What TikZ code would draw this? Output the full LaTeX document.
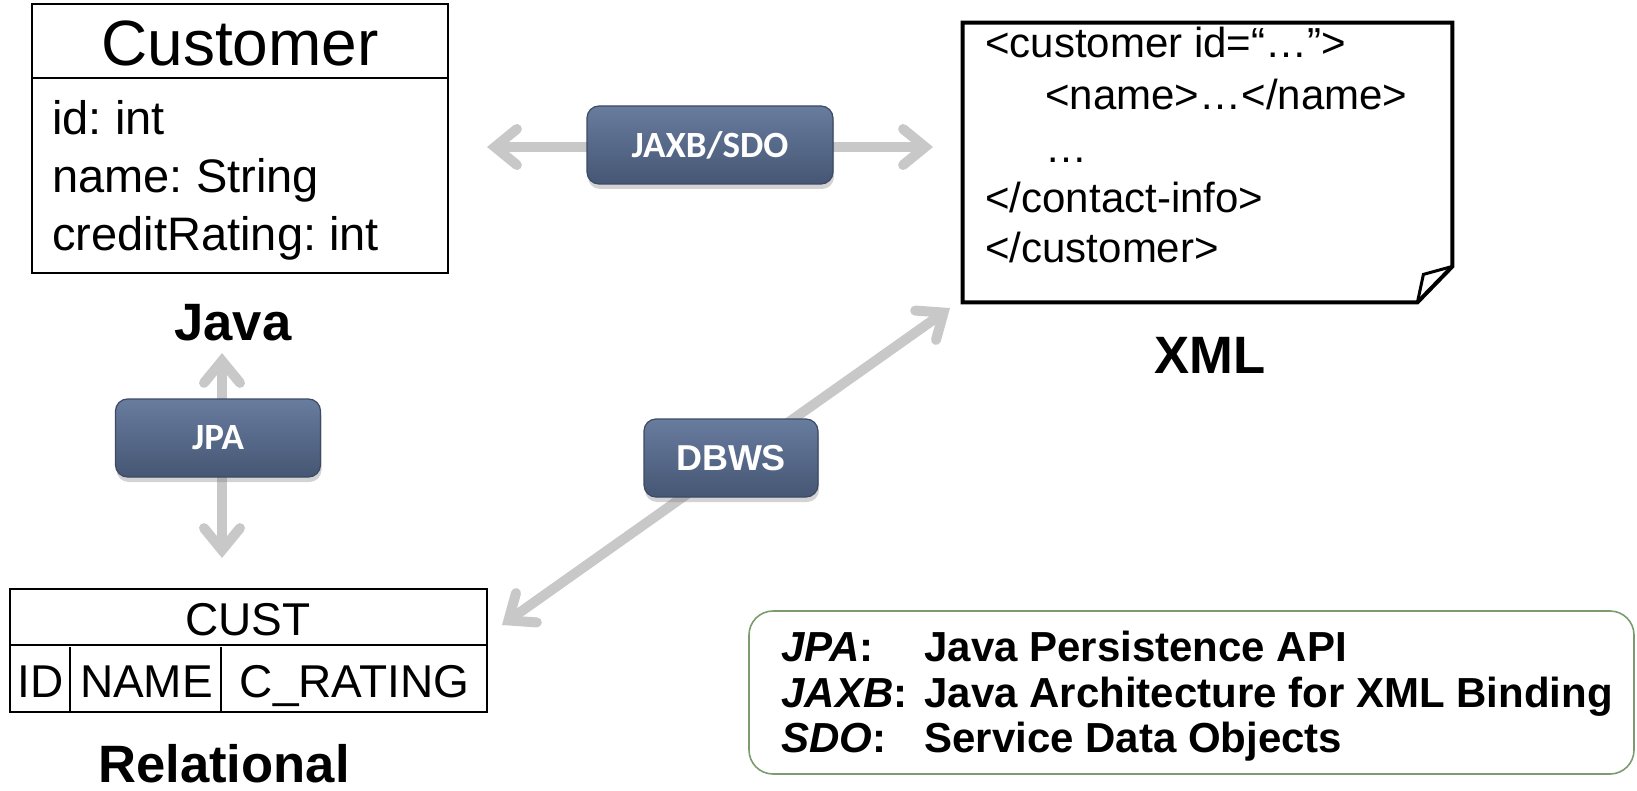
\documentclass[tikz,border=0pt]{standalone}
\usepackage{fontspec}
\setmainfont{Liberation Sans}
\newfontfamily\calib{Carlito}
\usetikzlibrary{arrows.meta,shadows,calc}
\definecolor{arrgray}{RGB}{200,200,200}
\definecolor{btntop}{RGB}{104,124,158}
\definecolor{btnbot}{RGB}{70,86,116}
\definecolor{btnedge}{RGB}{60,74,100}
\definecolor{legendgreen}{RGB}{125,155,112}
\frenchspacing
\begin{document}
\begin{tikzpicture}[x=0.5pt,y=-0.5pt,
  arr/.style={draw=arrgray, line width=5pt,
    {Straight Barb[length=11pt,width=18pt,line cap=round]}-{Straight Barb[length=11pt,width=18pt,line cap=round]}},
  btn/.style={rounded corners=6pt, top color=btntop, bottom color=btnbot,
    draw=btnedge, line width=0.6pt, text=white, inner sep=0pt,
    minimum height=39pt,
    drop shadow={opacity=0.35, shadow xshift=0.5pt, shadow yshift=-2.5pt}},
  bigtxt/.style={font=\fontsize{23.5}{28}\selectfont},
  xmltxt/.style={font=\fontsize{21}{25}\selectfont, anchor=base west, inner sep=0pt},
  tbltxt/.style={font=\fontsize{23}{27}\selectfont, anchor=base, inner sep=0pt},
  head/.style={font=\fontsize{26.3}{30}\selectfont\bfseries, anchor=base, inner sep=0pt},
  legtxt/.style={font=\fontsize{21}{25}\selectfont\bfseries, anchor=base west, inner sep=0pt},
]
\useasboundingbox (0,0) rectangle (1637,791);

% ---------- Customer class (Java) ----------
\node[draw, line width=1pt, minimum width=208pt, minimum height=134.5pt, inner sep=0pt] (cls) at (240,138.5) {};
\draw[line width=1pt] ($(cls.north west)+(0,75)$) -- ($(cls.north east)+(0,75)$);
\node[font=\fontsize{32}{36}\selectfont, anchor=base, inner sep=0pt] (clsname) at (240,66) {Customer};
\node[bigtxt, anchor=base west, inner sep=0pt] (attr1) at (52,135) {id: int};
\node[bigtxt, anchor=base west, inner sep=0pt] (attr2) at (52,193) {name: String};
\node[bigtxt, anchor=base west, inner sep=0pt] (attr3) at (52,250) {creditRating: int};
\node[head] (java) at (233,340) {Java};

% ---------- XML note ----------
\node[minimum width=244.5pt, minimum height=139.5pt, inner sep=0pt] (xml) at (1207.5,162.5) {};
\coordinate (foldA) at ($(xml.south east)+(0,-36)$);
\coordinate (foldB) at ($(xml.south east)+(-35,0)$);
\coordinate (foldC) at ($(xml.south east)+(-29,-28)$);
\draw[line width=2pt, line join=miter, fill=white] (xml.north west) -- (xml.north east) -- (foldA) -- (foldB) -- (xml.south west) -- cycle;
\draw[line width=1.5pt, line join=miter] (foldA) -- (foldC) -- (foldB);
\node[xmltxt] (x1) at (985,58) {<customer id=“…”>};
\node[xmltxt] (x2) at (1045,110) {<name>…</name>};
\node[xmltxt] (x3) at (1045,163) {…};
\node[xmltxt] (x4) at (985,213) {</contact-info>};
\node[xmltxt] (x5) at (985,263) {</customer>};
\node[head] (xmllbl) at (1210,373) {XML};

% ---------- Relational table ----------
\node[draw, line width=1pt, minimum width=238.5pt, minimum height=61.5pt, inner sep=0pt] (tbl) at (248.5,650.5) {};
\draw[line width=1pt] ($(tbl.north west)+(0,57)$) -- ($(tbl.north east)+(0,57)$);
\draw[line width=1pt] ($(tbl.south west)+(61,0)$) -- ($(tbl.south west)+(61,-66)$);
\draw[line width=1pt] ($(tbl.south west)+(212,0)$) -- ($(tbl.south west)+(212,-66)$);
\node[tbltxt] (tname) at (248,635) {CUST};
\node[tbltxt] (c1) at (40.5,697) {ID};
\node[tbltxt] (c2) at (146.5,697) {NAME};
\node[tbltxt] (c3) at (354.5,697) {C\_RATING};
\node[head] (rel) at (224,782) {Relational};

% ---------- Arrows ----------
\coordinate (jaxbL) at (487,147);
\coordinate (jaxbR) at (933,147);
\coordinate (jpaT) at (222,353);
\coordinate (jpaB) at (222,558);
\coordinate (dbwsL) at (502,625);
\coordinate (dbwsR) at (950,308);
\draw[arr] (jaxbL) -- (jaxbR);
\draw[arr] (jpaT) -- (jpaB);
\draw[arr] (dbwsL) -- (dbwsR);

% ---------- Buttons ----------
\node[btn, minimum width=123pt, font=\calib\fontsize{18.5}{20}\selectfont\bfseries] (jaxb) at (710,145) {JAXB/SDO};
\node[btn, minimum width=102.5pt, font=\calib\fontsize{18.5}{20}\selectfont\bfseries] (jpa) at (218,438) {JPA};
\node[btn, minimum width=87pt, font=\fontsize{18}{20}\selectfont\bfseries] (dbws) at (731,458) {DBWS};

% ---------- Legend ----------
\node[draw=legendgreen, line width=0.8pt, rounded corners=12pt, minimum width=442.5pt, minimum height=81.5pt, inner sep=0pt] (legend) at (1191.5,692.5) {};
\node[legtxt] (l1) at (781,661) {\textit{JPA}:};
\node[legtxt] (d1) at (924,661) {Java Persistence API};
\node[legtxt] (l2) at (781,707) {\textit{JAXB}:};
\node[legtxt] (d2) at (924,707) {Java Architecture for XML Binding};
\node[legtxt] (l3) at (781,752) {\textit{SDO}:};
\node[legtxt] (d3) at (924,752) {Service Data Objects};
\end{tikzpicture}
\end{document}
